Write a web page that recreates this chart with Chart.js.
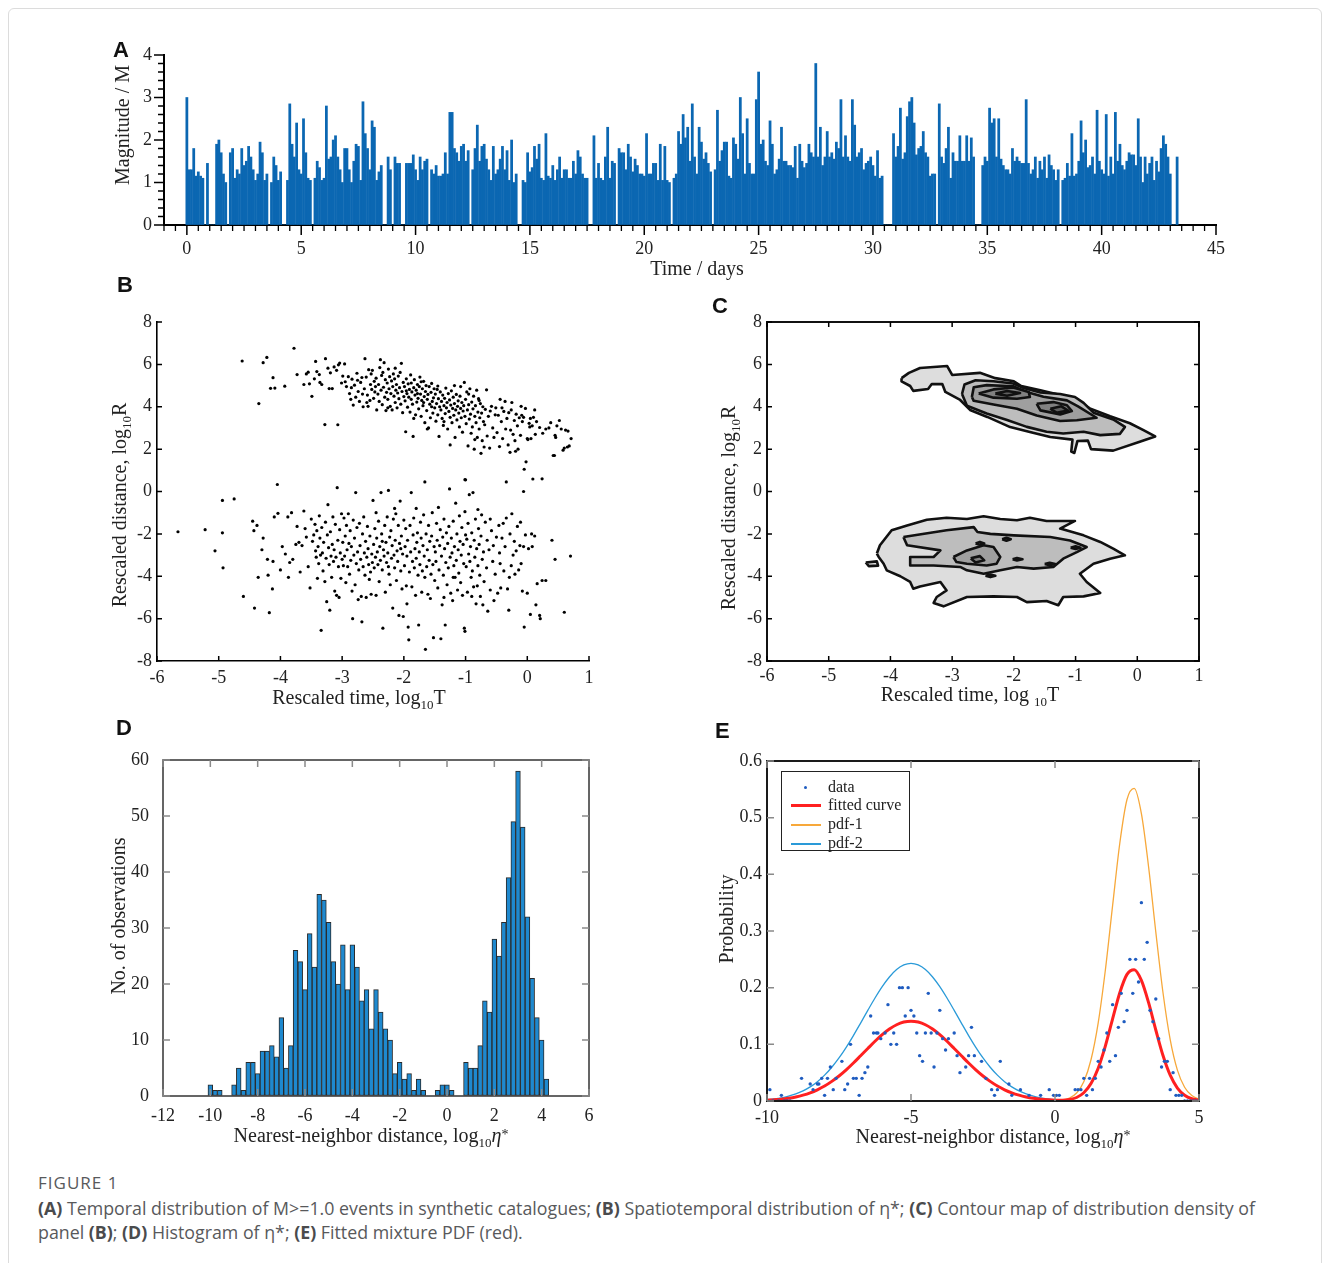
<!DOCTYPE html>
<html><head><meta charset="utf-8">
<script src="https://cdn.jsdelivr.net/npm/chart.js"></script>
<style>
html,body{margin:0;padding:0;background:#fff;}
body{width:1330px;height:1263px;position:relative;overflow:hidden;font-family:"Liberation Serif","Times New Roman",serif;}
#frame{position:absolute;left:8px;top:8px;width:1312px;height:1300px;border:1px solid #dcdcdc;border-radius:6px;}
#wrap canvas{position:absolute;}
.lbl{position:absolute;font:bold 22px "Liberation Sans",Arial,sans-serif;line-height:22px;color:#111;}
.ttl{position:absolute;font-size:20px;line-height:22px;color:#222;white-space:nowrap;transform:translate(-50%,-50%);}
.rot{transform:translate(-50%,-50%) rotate(-90deg);}
.ttl sub{font-size:13px;vertical-align:-5px;line-height:0;}
.st{font-size:14px;vertical-align:3px;line-height:0;}
#eleg{position:absolute;left:781px;top:771px;width:127px;height:78px;border:1.5px solid #222;background:#fff;font-size:16px;color:#222;}
#eleg .row{position:absolute;left:0;height:18px;line-height:18px;white-space:nowrap;}
#eleg .sw{position:absolute;left:9px;width:30px;}
#eleg .tx{position:absolute;left:46px;top:0;}
#cap{position:absolute;left:38px;top:1172px;font-family:"Open Sans",sans-serif;color:#58595b;}
#cap .fig{font-size:17px;letter-spacing:1px;line-height:22px;}
#cap .txt{font-size:17.8px;line-height:24px;margin-top:2px;white-space:nowrap;}
#cap b{font-weight:700;color:#4a4b4d;}
</style></head>
<body>
<div id="frame"></div>
<div id="wrap"></div>

<div class="lbl" style="left:113px;top:39px">A</div>
<div class="lbl" style="left:117px;top:274px">B</div>
<div class="lbl" style="left:712px;top:295px">C</div>
<div class="lbl" style="left:116px;top:717px">D</div>
<div class="lbl" style="left:715px;top:720px">E</div>

<div class="ttl rot" style="left:122px;top:125px">Magnitude / M</div>
<div class="ttl" style="left:697px;top:268px">Time / days</div>
<div class="ttl rot" style="left:119px;top:505px">Rescaled distance, log<sub>10</sub>R</div>
<div class="ttl" style="left:359px;top:697px">Rescaled time, log<sub>10</sub>T</div>
<div class="ttl rot" style="left:728px;top:508px">Rescaled distance, log<sub>10</sub>R</div>
<div class="ttl" style="left:970px;top:694px">Rescaled time, log <sub>10</sub>T</div>
<div class="ttl rot" style="left:118px;top:916px">No. of observations</div>
<div class="ttl" style="left:371px;top:1135px">Nearest-neighbor distance, log<sub>10</sub><i>η</i><span class="st">*</span></div>
<div class="ttl rot" style="left:726px;top:919px">Probability</div>
<div class="ttl" style="left:993px;top:1136px">Nearest-neighbor distance, log<sub>10</sub><i>η</i><span class="st">*</span></div>

<div id="eleg">
  <div class="row" style="top:6px"><div class="sw" style="top:8px;left:22px;width:3px;height:3px;border-radius:2px;background:#1f5cc0"></div><div class="tx">data</div></div>
  <div class="row" style="top:24px"><div class="sw" style="top:8px;height:3px;background:#ff2020"></div><div class="tx">fitted curve</div></div>
  <div class="row" style="top:43px"><div class="sw" style="top:9px;height:1.5px;background:#f7a83a"></div><div class="tx">pdf-1</div></div>
  <div class="row" style="top:62px"><div class="sw" style="top:9px;height:1.5px;background:#2a9ad8"></div><div class="tx">pdf-2</div></div>
</div>

<div id="cap">
  <div class="fig">FIGURE 1</div>
  <div class="txt"><b>(A)</b> Temporal distribution of M&gt;=1.0 events in synthetic catalogues; <b>(B)</b> Spatiotemporal distribution of η*; <b>(C)</b> Contour map of distribution density of<br>panel <b>(B)</b>; <b>(D)</b> Histogram of η*; <b>(E)</b> Fitted mixture PDF (red).</div>
</div>

<script>
// ---------------- DATA ----------------
// Panel A: magnitudes in 0.1-day bins starting at day 0 (0 = no event)
const aStart = 0, aStep = 0.1;
const aMag = [
3.0,1.3,1.3,1.8,1.15,1.25,1.15,1.1,0,1.45,
0,0,0,1.9,2.0,1.7,1.2,1.0,0,1.7,
1.8,1.1,1.3,1.2,1.8,1.4,1.5,1.85,1.6,1.3,
1.05,1.2,1.95,1.7,1.05,1.2,0,1.0,1.6,1.4,
1.05,1.25,0,0,1.05,2.85,1.9,1.6,2.4,1.3,
1.2,2.5,1.7,1.1,1.05,0,1.1,1.5,1.35,1.05,
1.1,2.8,1.55,1.6,2.0,2.1,1.6,1.3,1.0,1.8,
1.8,1.3,1.0,1.5,1.9,1.85,1.05,2.9,2.15,1.8,
1.3,2.45,2.3,1.05,1.25,1.4,0,0,1.6,1.3,
0,1.6,1.45,1.45,0,0,1.45,1.45,1.45,1.65,
1.3,1.05,1.6,1.3,1.5,1.55,0,1.3,1.2,1.4,
1.15,1.15,1.2,1.7,1.2,2.65,2.65,1.8,1.7,1.5,
1.85,1.9,1.5,1.75,0,1.3,1.8,2.35,1.5,1.85,
1.9,1.55,1.3,1.05,1.85,1.2,1.3,1.55,1.85,1.3,
1.75,1.05,2.0,1.0,1.2,0,0,1.05,1.0,1.7,
1.25,1.35,1.85,1.55,1.9,1.1,1.05,2.15,1.15,1.1,
1.4,1.05,1.3,1.6,1.1,1.3,1.3,1.1,1.1,1.5,
1.2,1.75,1.6,1.2,1.1,1.1,0,0,2.1,1.1,
1.45,1.1,1.05,1.6,2.3,1.1,1.5,1.45,0,1.8,
1.7,1.7,1.3,1.9,1.6,1.25,1.55,1.4,1.2,1.2,
1.15,2.15,1.2,1.2,1.45,1.45,1.05,1.9,1.05,1.85,
1.05,1.0,0,1.1,1.2,2.2,1.9,2.6,2.05,2.3,
1.5,2.85,1.6,1.2,2.3,1.95,1.55,1.7,1.45,1.25,
0,1.3,2.7,1.5,1.75,1.95,1.95,1.15,1.1,2.05,
1.9,1.55,3.0,2.15,1.2,2.5,1.45,1.2,1.2,2.95,
3.6,1.9,2.0,1.5,1.4,2.45,1.9,1.2,1.3,1.55,
2.3,1.5,1.5,1.4,1.4,1.35,1.85,1.1,1.9,1.5,
1.35,1.45,1.9,1.7,1.6,3.8,1.6,2.3,1.4,1.6,
2.2,1.6,1.7,1.55,1.95,1.8,2.95,1.6,2.1,1.6,
1.5,2.95,2.35,1.6,1.7,1.8,1.3,1.45,1.5,1.6,
1.4,1.15,1.75,1.1,1.15,0,0,0,0,2.15,
1.6,1.85,2.75,1.55,1.7,2.55,2.9,3.0,2.4,1.65,
1.8,1.85,2.2,1.7,1.6,1.15,1.2,1.2,0,2.85,
1.6,1.45,1.8,2.3,1.1,1.7,1.5,1.5,2.1,1.5,
1.5,2.1,1.5,2.05,1.6,0,0,0,1.4,1.6,
1.5,2.75,2.4,2.5,1.6,2.5,1.55,1.4,1.3,1.3,
1.2,1.8,1.5,1.6,1.5,1.45,1.45,2.95,1.45,1.2,
1.3,1.6,1.1,1.5,1.3,1.6,1.1,1.65,1.4,1.3,
1.05,1.3,0,1.05,1.1,1.45,1.15,2.15,1.15,1.2,
1.5,2.45,1.7,2.0,1.35,1.4,1.6,1.2,2.7,1.5,
1.3,1.2,2.6,1.15,1.6,1.2,2.65,1.5,1.9,1.4,
1.3,1.5,1.7,1.65,1.65,1.4,2.5,1.6,1.0,1.6,
1.2,1.45,1.6,1.05,1.5,1.25,1.8,2.1,1.9,1.6,
1.2,0,0,1.6
];
const aXTicks = [0,5,10,15,20,25,30,35,40,45];
const aYTicks = [0,1,2,3,4];

// Panel B: (log10 T, log10 R) pairs
const bUpper = [
-4.62,6.16,-4.28,6.08,-4.22,6.33,-4.12,5.37,-4.16,4.87,-4.09,4.88,-3.93,4.97,-4.35,4.15,-3.78,6.76,-3.73,5.52,
-3.55,5.63,-3.53,5.08,-3.49,4.49,-3.43,6.14,-3.41,5.66,-3.37,5.52,-3.33,5.05,-3.27,6.27,-3.23,5.82,-3.21,4.86,
-3.16,4.86,-3.13,5.88,-3.09,5.72,-3.06,5.98,-3.04,6.06,-2.99,5.45,-2.96,6.02,-3.28,3.16,-3.07,3.15,-3.36,5.15,
-3.19,5.6,-3.01,5.12,-3.45,5.32,-3.58,5.55,-3.62,5.05,
-2.93,4.95,-2.9,5.42,-2.88,4.62,-2.86,4.35,-2.84,5.3,-2.82,4.08,-2.8,5.02,-2.78,4.45,-2.76,5.58,-2.74,4.72,
-2.72,4.25,-2.7,5.15,-2.68,5.38,-2.66,4.0,-2.64,4.85,-2.63,6.27,-2.61,5.4,-2.59,4.55,-2.57,5.75,-2.55,4.3,
-2.54,5.05,-2.52,4.82,-2.51,5.72,-2.6,4.2,-2.95,5.18,-2.85,4.9,-2.75,5.25,-2.67,4.6,-2.58,4.02,-2.53,5.55,
-2.49,4.4,-2.48,5.2,-2.46,4.95,-2.45,5.35,-2.44,3.85,-2.42,4.6,-2.41,5.05,-2.4,4.25,-2.38,6.22,-2.37,4.78,
-2.36,5.48,-2.35,4.1,-2.34,5.62,-2.33,4.92,-2.32,6.08,-2.31,4.45,-2.3,5.28,-2.29,3.82,-2.28,4.68,-2.27,5.12,
-2.26,4.35,-2.25,5.78,-2.24,4.85,-2.23,5.42,-2.22,4.02,-2.21,4.62,-2.2,5.22,-2.19,3.85,-2.18,4.95,-2.17,5.55,
-2.16,4.5,-2.15,5.32,-2.14,4.2,-2.13,4.78,-2.12,5.05,-2.11,3.95,-2.1,4.65,-2.09,5.45,-2.08,4.38,-2.07,4.9,
-2.06,5.62,-2.05,4.12,-2.04,6.05,-2.03,4.72,-2.02,3.72,-2.01,5.15,-2.0,4.48,-2.47,4.7,-2.39,5.85,-2.26,3.95,-2.14,5.82,
-1.99,4.95,-1.98,4.28,-1.97,2.82,-1.96,5.32,-1.95,4.62,-1.94,3.98,-1.93,5.08,-1.92,4.45,-1.91,4.82,-1.9,3.75,
-1.89,5.5,-1.88,4.35,-1.87,4.7,-1.86,4.12,-1.85,2.6,-1.84,4.9,-1.83,5.28,-1.82,4.55,-1.81,3.62,-1.8,4.78,
-1.79,4.22,-1.78,5.05,-1.77,4.4,-1.76,3.9,-1.75,4.95,-1.74,5.4,-1.73,4.6,-1.72,3.55,-1.71,4.3,-1.7,4.85,
-1.69,4.05,-1.68,5.2,-1.67,4.48,-1.66,3.25,-1.65,4.72,-1.64,5.0,-1.63,3.82,-1.62,4.35,-1.61,4.58,-1.6,3.0,
-1.59,4.95,-1.58,4.12,-1.57,3.48,-1.56,4.68,-1.55,5.1,-1.54,4.25,-1.53,3.7,-1.52,4.42,-1.51,4.85,-1.5,3.95,
-1.96,4.75,-1.88,5.12,-1.84,3.45,-1.78,4.62,-1.72,5.18,-1.68,4.2,-1.62,2.95,-1.55,4.0,
-1.49,4.6,-1.48,3.32,-1.47,4.15,-1.46,4.82,-1.45,3.62,-1.44,4.38,-1.43,2.6,-1.42,4.0,-1.41,4.7,-1.4,3.85,
-1.39,4.25,-1.38,3.45,-1.37,4.55,-1.36,3.12,-1.35,4.05,-1.34,4.4,-1.33,3.68,-1.32,4.88,-1.31,3.95,-1.3,4.2,
-1.29,2.95,-1.28,4.62,-1.27,3.78,-1.26,4.32,-1.25,3.5,-1.24,4.08,-1.23,4.75,-1.22,3.25,-1.21,3.92,-1.2,4.45,
-1.19,3.6,-1.18,4.15,-1.17,2.55,-1.16,3.85,-1.15,4.58,-1.14,3.38,-1.13,4.02,-1.12,4.28,-1.11,3.7,-1.1,3.05,
-1.09,4.5,-1.08,3.92,-1.07,3.48,-1.06,4.2,-1.05,2.8,-1.04,3.8,-1.03,4.05,-1.02,5.15,-1.01,3.55,-1.0,4.35,
-1.45,4.98,-1.35,3.3,-1.25,2.2,-1.18,5.0,-1.08,4.95,
-0.99,3.2,-0.98,4.7,-0.97,3.85,-0.96,2.15,-0.95,4.1,-0.94,3.42,-0.93,4.85,-0.92,3.65,-0.91,2.75,-0.9,4.22,
-0.89,3.05,-0.88,3.9,-0.87,4.5,-0.86,2.0,-0.85,3.55,-0.84,4.05,-0.83,3.25,-0.82,4.78,-0.81,2.55,-0.8,3.75,
-0.79,4.38,-0.78,2.95,-0.77,3.48,-0.76,4.15,-0.75,1.8,-0.74,3.7,-0.73,2.4,-0.72,4.0,-0.71,3.3,-0.7,2.1,
-0.68,3.88,-0.66,4.8,-0.65,2.62,-0.63,3.55,-0.61,2.05,-0.6,3.8,-0.58,4.02,-0.56,3.0,-0.54,2.55,-0.52,3.62,
-0.51,3.95,-0.95,4.6,-0.85,2.45,-0.78,4.3,-0.69,3.15,
-0.49,2.78,-0.47,3.6,-0.45,2.12,-0.44,4.35,-0.42,3.3,-0.4,2.5,-0.38,3.78,-0.36,4.25,-0.35,2.95,-0.33,3.45,
-0.31,2.2,-0.3,3.72,-0.28,1.85,-0.26,3.85,-0.25,4.2,-0.23,2.7,-0.21,3.35,-0.2,2.4,-0.18,3.65,-0.16,3.1,
-0.15,2.0,-0.13,3.48,-0.11,2.65,-0.1,4.02,-0.08,3.3,-0.06,3.5,-0.05,1.05,-0.03,3.92,-0.02,1.4,0.0,2.5,
0.01,2.45,0.03,3.22,0.04,3.05,0.06,2.5,0.08,3.1,0.1,3.5,0.12,3.85,0.13,2.7,0.15,3.3,-0.41,3.95,
-0.27,2.9,-0.19,1.9,-0.09,3.6,0.05,3.45,
0.2,3.02,0.3,2.95,0.35,3.0,0.42,1.7,0.44,1.7,0.45,2.65,0.46,2.55,0.48,3.1,0.52,3.35,0.58,1.95,
0.6,2.05,0.62,2.9,0.65,2.1,0.68,2.15,0.71,2.5,0.25,2.75,0.38,3.25,0.55,2.95,0.66,2.85,
-0.06,0.0,0.09,0.59,-0.34,0.45,-1.01,0.56,0.24,0.6
];
const bLower = [
-5.66,-1.9,-5.22,-1.8,-5.06,-2.8,-4.94,-0.42,-4.94,-1.95,-4.93,-3.6,-4.75,-0.35,-4.6,-4.95,-4.45,-1.4,-4.43,-1.85,
-4.42,-5.5,-4.38,-1.6,-4.3,-2.75,-4.28,-2.2,-4.21,-3.2,-4.18,-5.72,-4.13,-4.6,-4.12,-3.3,-4.05,0.33,-4.04,-1.03,
-4.0,-3.7,-3.92,-2.95,-3.88,-1.2,-3.87,-4.05,-3.82,-1.0,-3.8,-3.2,-3.75,-2.5,-3.73,-1.65,-3.7,-2.4,-3.68,-3.8,
-3.65,-2.55,-3.62,-0.92,-3.6,-1.75,-3.58,-2.15,-3.55,-3.55,-3.52,-4.55,-3.5,-1.3,-3.48,-2.35,-3.46,-2.05,-4.36,-4.05,
-4.2,-3.95,-3.97,-2.6,-3.85,-3.35,-4.1,-1.2,
-3.44,-1.55,-3.43,-2.8,-3.42,-3.1,-3.41,-1.85,-3.4,-4.1,-3.39,-2.6,-3.38,-3.4,-3.37,-1.15,-3.36,-2.2,-3.35,-3.0,
-3.34,-6.55,-3.33,-1.7,-3.32,-2.9,-3.31,-3.75,-3.3,-2.4,-3.28,-4.25,-3.27,-1.45,-3.26,-3.15,-3.25,-5.2,-3.24,-2.05,
-3.23,-0.62,-3.22,-2.65,-3.21,-3.45,-3.2,-5.6,-3.19,-1.9,-3.18,-3.05,-3.17,-4.05,-3.16,-2.5,-3.15,-1.2,-3.14,-3.3,
-3.13,-2.75,-3.12,-4.7,-3.11,-1.55,-3.1,-3.1,-3.09,-4.9,-3.08,0.18,-3.07,-2.3,-3.06,-3.55,-3.05,-5.0,-3.04,-1.8,
-3.03,-2.9,-3.02,-4.1,-3.01,-1.05,-3.0,-3.2,
-2.99,-2.4,-2.98,-3.5,-2.97,-1.25,-2.96,-3.05,-2.95,-2.1,-2.94,-4.3,-2.93,-1.6,-2.92,-2.75,-2.91,-3.55,-2.9,-1.05,
-2.89,-2.45,-2.88,-3.9,-2.87,-1.85,-2.86,-3.25,-2.85,-2.6,-2.84,-4.7,-2.83,-6.0,-2.82,-1.35,-2.81,-3.0,-2.8,-2.2,
-2.79,-4.4,-2.78,-0.05,-2.77,-3.4,-2.76,-1.7,-2.75,-2.85,-2.74,-5.1,-2.73,-3.7,-2.72,-1.5,-2.71,-2.55,-2.7,-3.2,
-2.69,-4.95,-2.68,-6.15,-2.67,-2.0,-2.66,-3.55,-2.65,-1.2,-2.64,-2.9,-2.63,-3.95,-2.62,-2.35,-2.61,-5.0,-2.6,-3.1,
-2.59,-1.65,-2.58,-2.7,-2.57,-3.45,-2.56,-4.15,-2.55,-2.1,-2.54,-3.8,-2.53,-4.85,-2.52,-2.95,-2.51,-3.35,-2.5,-0.42,
-2.49,-2.5,-2.48,-3.6,-2.47,-1.75,-2.46,-3.1,-2.45,-4.9,-2.44,-2.2,-2.43,-2.85,-2.42,-3.45,-2.41,-1.4,-2.4,-4.25,
-2.39,-2.6,-2.38,-3.25,-2.37,-0.05,-2.36,-2.0,-2.35,-3.7,-2.34,-6.45,-2.33,-2.75,-2.32,-3.05,-2.31,-1.6,-2.3,-4.75,
-2.29,-2.4,-2.28,-3.35,-2.27,-1.2,-2.26,-2.9,-2.25,0.05,-2.24,-3.9,-2.23,-2.15,-2.22,-4.4,-2.21,-1.85,-2.2,-3.15,
-2.19,-2.55,-2.18,-5.5,-2.17,-1.3,-2.16,-3.0,-2.15,-3.6,-2.14,-2.3,-2.13,-1.05,-2.12,-4.2,-2.11,-2.8,-2.1,-3.3,
-2.09,-1.6,-2.08,-5.85,-2.07,-2.45,-2.06,-0.45,-2.05,-3.75,-2.04,-2.1,-2.03,-4.6,-2.02,-2.95,-2.01,-5.9,-2.0,-1.35,
-2.45,-1.0,-2.35,-2.35,-2.25,-3.55,-2.15,-0.8,-2.05,-2.7,
-1.99,-3.5,-1.98,-2.6,-1.97,-1.75,-1.96,-4.45,-1.95,-3.05,-1.94,-2.3,-1.93,-6.4,-1.92,-7.0,-1.91,-3.8,-1.9,-1.6,
-1.89,-2.85,-1.88,-0.05,-1.87,-4.5,-1.86,-3.3,-1.85,-2.05,-1.84,-1.25,-1.83,-3.6,-1.82,-2.7,-1.81,-4.9,-1.8,-3.15,
-1.79,-2.4,-1.78,-1.95,-1.77,-3.95,-1.76,-6.3,-1.75,-2.85,-1.74,-3.45,-1.73,-1.45,-1.72,-2.2,-1.71,-4.75,-1.7,-3.75,
-1.69,-2.55,-1.68,-1.1,-1.67,-3.05,-1.66,-4.05,-1.65,-7.45,-1.64,-2.0,-1.63,-3.55,-1.62,-2.75,-1.61,-4.85,-1.6,-1.6,
-1.59,-3.25,-1.58,-2.35,-1.57,-5.05,-1.56,-3.9,-1.55,-2.1,-1.54,-1.0,-1.53,-3.45,-1.52,-6.9,-1.51,-2.6,-1.5,-4.2,
-1.66,0.45,-1.8,-0.8,-1.95,-5.3,
-1.49,-2.85,-1.48,-3.3,-1.47,-1.5,-1.46,-2.3,-1.45,-4.55,-1.44,-0.75,-1.43,-3.7,-1.42,-2.55,-1.41,-1.8,-1.4,-6.95,
-1.39,-3.05,-1.38,-5.35,-1.37,-2.15,-1.36,-3.95,-1.35,-1.3,-1.34,-2.7,-1.33,-6.3,-1.32,-3.35,-1.31,-1.95,-1.3,-4.4,
-1.29,-2.45,-1.28,-3.6,-1.27,-1.65,-1.26,0.12,-1.25,-3.1,-1.24,-4.8,-1.23,-2.2,-1.22,-2.9,-1.21,-5.15,-1.2,-1.4,
-1.19,-3.5,-1.18,-2.6,-1.17,-4.05,-1.16,-0.55,-1.15,-3.25,-1.14,-2.0,-1.13,-4.65,-1.12,-2.75,-1.11,-3.85,-1.1,-1.15,
-1.09,-2.35,-1.08,-4.3,-1.07,-3.0,-1.06,-1.7,-1.05,-4.9,-1.04,-2.5,-1.03,-3.4,-1.02,-6.45,-1.01,-0.95,-1.0,-2.05,
-1.0,0.55,-1.01,-6.6,-1.2,-4.05,-1.35,-5.0,
-0.99,-3.55,-0.98,-2.25,-0.97,-4.75,-0.96,-1.5,-0.95,-2.95,-0.94,-0.15,-0.93,-3.3,-0.92,-2.6,-0.91,-4.05,-0.9,-1.95,
-0.89,-3.75,-0.88,-0.05,-0.87,-4.5,-0.86,-2.3,-0.85,-3.1,-0.84,-1.3,-0.83,-5.3,-0.82,-2.7,-0.81,-4.45,-0.8,-3.5,
-0.79,-1.75,-0.78,-2.5,-0.77,-3.95,-0.76,-4.95,-0.75,-2.1,-0.74,-1.1,-0.73,-3.2,-0.72,-5.35,-0.71,-2.85,-0.7,-4.25,
-0.68,-1.45,-0.66,-3.6,-0.65,-2.3,-0.64,-5.65,-0.62,-2.75,-0.6,-4.65,-0.58,-1.85,-0.56,-3.3,-0.55,-2.55,-0.54,-5.15,
-0.52,-3.9,-0.5,-2.15,-0.9,-4.95,-0.8,-0.85,-0.6,-1.3,
-0.48,-4.8,-0.46,-1.6,-0.45,-2.9,-0.43,-4.55,-0.41,-2.2,-0.39,-1.5,-0.38,-3.75,-0.36,-2.6,-0.34,-1.25,-0.32,-4.6,
-0.3,-5.6,-0.28,-2.0,-0.26,-3.5,-0.25,-1.05,-0.23,-3.0,-0.21,-2.35,-0.2,-3.9,-0.18,-2.8,-0.16,-1.65,-0.14,-3.7,
-0.12,-2.55,-0.1,-3.4,-0.08,-4.7,-0.06,-2.6,-0.05,-6.4,-0.03,-2.05,0.0,-4.8,0.02,-2.7,0.05,-5.8,0.07,-2.0,
0.08,-2.6,0.12,-2.1,0.14,-5.35,0.16,-4.35,0.2,-5.85,0.21,-6.0,0.24,-4.2,0.3,-4.2,0.4,-2.3,0.45,-3.2,
0.6,-5.7,0.7,-3.05,-0.44,-3.4,-0.29,-4.05,-0.11,-1.45
];
const bXTicks = [-6,-5,-4,-3,-2,-1,0,1];
const bYTicks = [-8,-6,-4,-2,0,2,4,6,8];

// Panel C: contour polygons (log10 T, log10 R), levels 1 (outer) .. 5 (inner)
const cUp1 = [-3.82,5.35,-3.70,5.60,-3.52,5.83,-3.08,5.92,-3.00,5.50,-2.55,5.60,-2.30,5.35,-2.00,5.20,-1.88,4.98,-1.57,4.78,
 -1.25,4.55,-0.98,4.30,-0.77,3.92,-0.44,3.55,-0.12,3.22,0.10,2.90,0.29,2.60,0.04,2.35,-0.39,1.93,-0.75,2.00,
 -0.80,2.40,-0.97,2.38,-1.02,1.82,-1.07,1.88,-1.05,2.45,-1.41,2.57,-1.74,2.81,-2.06,3.04,-2.43,3.52,-2.71,3.85,
 -2.87,4.32,-3.11,4.70,-3.16,5.07,-3.33,5.07,-3.39,4.84,-3.63,4.75,-3.68,4.98,-3.82,5.20];
const cUp2 = [-2.84,4.60,-2.80,5.05,-2.62,5.25,-2.33,5.20,-2.01,5.10,-1.84,4.88,-1.57,4.67,-1.25,4.60,-1.01,4.46,-0.87,4.18,
 -0.71,3.72,-0.39,3.40,-0.20,3.05,-0.28,2.72,-0.60,2.66,-0.87,2.82,-1.20,2.74,-1.47,2.82,-1.79,3.05,-2.11,3.37,
 -2.44,3.68,-2.76,4.05];
const cUp2b = [-0.84,2.98,-0.72,3.06,-0.60,3.00,-0.72,2.92];
const cUp3 = [-2.68,4.46,-2.65,4.92,-2.44,5.02,-2.01,4.97,-1.82,4.72,-1.52,4.47,-1.14,4.30,-0.96,4.02,-0.66,3.48,-0.98,3.36,
 -1.25,3.33,-1.63,3.59,-1.95,3.91,-2.33,4.11,-2.65,4.28];
const cUp4a = [-2.57,4.62,-2.33,4.82,-2.01,4.91,-1.76,4.70,-1.74,4.46,-1.95,4.38,-2.33,4.43];
const cUp4b = [-1.63,4.14,-1.36,4.22,-1.14,4.07,-1.06,3.80,-1.25,3.64,-1.57,3.83];
const cUp5a = [-2.30,4.62,-2.11,4.74,-1.90,4.65,-2.11,4.52];
const cUp5b = [-1.41,3.91,-1.23,4.02,-1.12,3.82,-1.31,3.72];
const cLo1 = [-4.22,-2.93,-4.17,-2.54,-3.98,-1.83,-3.73,-1.60,-3.41,-1.33,-3.09,-1.24,-2.76,-1.30,-2.49,-1.17,-2.22,-1.30,-1.95,-1.36,
 -1.74,-1.24,-1.47,-1.39,-1.01,-1.39,-1.25,-1.75,-0.87,-2.07,-0.60,-2.38,-0.39,-2.70,-0.20,-3.01,-0.44,-3.17,-0.71,-3.41,
 -0.93,-3.88,-0.82,-4.27,-0.60,-4.79,-0.87,-4.95,-1.20,-4.98,-1.28,-5.37,-1.47,-5.17,-1.79,-5.22,-1.95,-4.98,-2.33,-4.95,
 -2.76,-4.98,-3.14,-5.42,-3.30,-5.26,-3.25,-4.98,-3.09,-4.67,-3.19,-4.27,-3.52,-4.48,-3.63,-4.59,-3.68,-4.27,-3.84,-4.00,
 -4.06,-3.72,-4.11,-3.41,-4.19,-3.09];
const cLoIsl = [-4.40,-3.35,-4.22,-3.30,-4.20,-3.50,-4.35,-3.52];
const cLo2 = [-3.79,-2.15,-3.09,-1.83,-2.65,-1.68,-2.59,-1.91,-2.38,-2.00,-2.00,-2.07,-1.41,-2.15,-1.09,-2.31,-0.82,-2.62,-0.98,-2.86,
 -1.20,-3.17,-1.36,-3.56,-1.68,-3.64,-1.95,-3.56,-2.22,-3.72,-2.49,-3.88,-2.76,-3.72,-2.87,-3.56,-3.30,-3.49,-3.68,-3.49,
 -3.68,-3.09,-3.30,-3.09,-3.19,-2.78,-3.73,-2.54];
const cLo3 = [-2.98,-3.09,-2.76,-2.78,-2.49,-2.54,-2.33,-2.62,-2.22,-3.09,-2.28,-3.41,-2.44,-3.49,-2.76,-3.41,-2.93,-3.33];
const cLo3d = [
 [-2.62,-2.45,-2.55,-2.38,-2.48,-2.45,-2.55,-2.52],
 [-2.19,-2.25,-2.12,-2.18,-2.05,-2.25,-2.12,-2.32],
 [-2.02,-3.20,-1.95,-3.14,-1.86,-3.20,-1.95,-3.26],
 [-1.50,-3.42,-1.42,-3.36,-1.33,-3.42,-1.42,-3.48],
 [-1.08,-2.65,-1.00,-2.59,-0.92,-2.65,-1.00,-2.71],
 [-2.46,-3.98,-2.38,-3.92,-2.30,-3.98,-2.38,-4.04]
];
const cLo4 = [-2.70,-3.15,-2.55,-3.05,-2.48,-3.25,-2.62,-3.35];
const cLevelColors = ['#dddddd','#bdbdbd','#9f9f9f','#818181','#5f5f5f'];

// Panel D: histogram of log10 eta* (bin width 0.2)
const dCenters = [-10,-9.8,-9.6,-9.4,-9.2,-9,-8.8,-8.6,-8.4,-8.2,-8,-7.8,-7.6,-7.4,-7.2,-7,-6.8,-6.6,-6.4,-6.2,
 -6,-5.8,-5.6,-5.4,-5.2,-5,-4.8,-4.6,-4.4,-4.2,-4,-3.8,-3.6,-3.4,-3.2,-3,-2.8,-2.6,-2.4,-2.2,
 -2,-1.8,-1.6,-1.4,-1.2,-1,-0.8,-0.6,-0.4,-0.2,0,0.2,0.4,0.6,0.8,1,1.2,1.4,1.6,1.8,
 2,2.2,2.4,2.6,2.8,3,3.2,3.4,3.6,3.8,4,4.2];
const dCounts = [2,1,1,0,0,2,5,1,6,6,4,8,8,9,7,14,5,9,26,24,
 19,29,23,36,35,31,24,20,27,19,27,23,17,19,12,19,15,12,10,4,
 6,3,4,1,3,1,0,0,1,2,2,1,0,0,6,5,5,9,17,15,
 28,25,31,39,49,58,48,32,21,14,10,3];
const dXTicks = [-12,-10,-8,-6,-4,-2,0,2,4,6];
const dYTicks = [0,10,20,30,40,50,60];

// Panel E: fitted mixture
const eX = [-10,-9.75,-9.5,-9.25,-9,-8.75,-8.5,-8.25,-8,-7.75,-7.5,-7.25,-7,-6.75,-6.5,-6.25,-6,-5.75,-5.5,-5.25,
 -5,-4.75,-4.5,-4.25,-4,-3.75,-3.5,-3.25,-3,-2.75,-2.5,-2.25,-2,-1.75,-1.5,-1.25,-1,-0.75,-0.5,-0.25,
 0,0.25,0.5,0.75,1,1.25,1.5,1.75,2,2.25,2.5,2.75,3,3.25,3.5,3.75,4,4.25,4.5,4.75,5];
const ePdf2 = [0.0023,0.0037,0.0056,0.0085,0.0124,0.0178,0.0249,0.0341,0.0456,0.0596,0.0760,0.0948,0.1155,0.1375,0.1599,0.1817,0.2018,0.2189,0.2320,0.2402,
 0.2430,0.2402,0.2320,0.2189,0.2018,0.1817,0.1599,0.1375,0.1155,0.0948,0.0760,0.0596,0.0456,0.0341,0.0249,0.0178,0.0124,0.0085,0.0056,0.0037,
 0.0023,0.0014,0.0009,0.0005,0.0003,0.0002,0.0001,0,0,0,0,0,0,0,0,0,0,0,0,0,0];
const ePdf1 = [0,0,0,0,0,0,0,0,0,0,0,0,0,0,0,0,0,0,0,0,
 0,0,0,0,0,0,0,0,0,0,0,0,0,0,0,0,0,0,0,0,
 0.0005,0.0017,0.0052,0.0141,0.0341,0.0728,0.1379,0.2316,0.3447,0.4549,0.5320,0.5517,0.5070,0.4130,0.2983,0.1910,0.1083,0.0545,0.0243,0.0096,0.0034];
const eFit = [0.0013,0.0021,0.0032,0.0049,0.0072,0.0103,0.0144,0.0198,0.0264,0.0346,0.0441,0.0550,0.0670,0.0798,0.0927,0.1054,0.1170,0.1270,0.1346,0.1393,
 0.1409,0.1393,0.1346,0.1270,0.1170,0.1054,0.0927,0.0798,0.0670,0.0550,0.0441,0.0346,0.0264,0.0198,0.0144,0.0103,0.0072,0.0049,0.0032,0.0021,
 0.0015,0.0015,0.0027,0.0062,0.0145,0.0307,0.0579,0.0973,0.1448,0.1911,0.2234,0.2317,0.2129,0.1735,0.1253,0.0802,0.0455,0.0229,0.0102,0.0040,0.0014];
const eData = [
 [-9.9,0.02],[-9.5,0.01],[-8.8,0.04],[-8.5,0.03],[-8.4,0.02],[-8.25,0.03],[-8.2,0.03],[-8.1,0.04],[-8.0,0.01],[-7.9,0.04],
 [-7.8,0.06],[-7.7,0.02],[-7.6,0.04],[-7.4,0.07],[-7.3,0.02],[-7.2,0.03],[-7.1,0.10],[-7.0,0.04],[-6.9,0.04],[-6.8,0.01],
 [-6.7,0.04],[-6.6,0.05],[-6.5,0.06],[-6.4,0.15],[-6.3,0.12],[-6.2,0.12],[-6.15,0.12],[-6.05,0.11],[-5.9,0.12],[-5.8,0.17],
 [-5.7,0.10],[-5.6,0.12],[-5.5,0.10],[-5.4,0.20],[-5.3,0.20],[-5.2,0.15],[-5.1,0.20],[-5.0,0.16],[-4.9,0.15],[-4.8,0.12],
 [-4.7,0.08],[-4.6,0.07],[-4.5,0.12],[-4.4,0.19],[-4.3,0.12],[-4.2,0.06],[-4.1,0.12],[-4.0,0.16],[-3.9,0.11],[-3.8,0.09],
 [-3.7,0.11],[-3.5,0.12],[-3.4,0.08],[-3.3,0.05],[-3.1,0.06],[-3.0,0.08],[-2.9,0.13],[-2.8,0.08],[-2.55,0.07],[-2.4,0.04],
 [-2.2,0.02],[-2.1,0.01],[-2.0,0.02],[-1.9,0.07],[-1.6,0.03],[-1.5,0.01],[-1.2,0.02],[-0.9,0.01],[-0.5,0.01],[-0.2,0.02],
 [-0.05,0.01],[0.05,0.01],[0.15,0.01],[0.7,0.02],[0.8,0.02],[0.9,0.02],[1.0,0.04],[1.1,0.01],[1.2,0.04],[1.3,0.02],
 [1.4,0.04],[1.5,0.07],[1.6,0.06],[1.7,0.09],[1.8,0.12],[1.9,0.07],[2.0,0.17],[2.1,0.08],[2.2,0.13],[2.3,0.19],
 [2.4,0.14],[2.5,0.16],[2.6,0.25],[2.7,0.19],[2.8,0.25],[2.9,0.21],[3.0,0.35],[3.1,0.25],[3.2,0.28],[3.3,0.16],
 [3.4,0.14],[3.5,0.18],[3.6,0.11],[3.7,0.06],[3.8,0.07],[3.9,0.07],[4.0,0.02],[4.1,0.05],[4.2,0.01],[4.3,0.01],
 [4.4,0.01],[4.5,0],[4.6,0],[4.7,0],[4.8,0],[4.9,0],[-9.8,0],[-9.6,0],[-9.4,0],[-9.3,0],[-9.2,0]
];
const eXTicks = [-10,-5,0,5];
const eYTicks = [0,0.1,0.2,0.3,0.4,0.5,0.6];

// ---------------- RENDER ----------------
Chart.defaults.font.family = '"Liberation Serif","Times New Roman",serif';
Chart.defaults.color = '#222';
Chart.defaults.animation = false;

function toXY(flat){ const r=[]; for(let i=0;i<flat.length;i+=2) r.push({x:flat[i],y:flat[i+1]}); return r; }
function closed(flat){ const p=toXY(flat); p.push({x:p[0].x,y:p[0].y}); return p; }

function makeCanvas(L,T,R,B){
  const c=document.createElement('canvas');
  const w=R-L+120, h=B-T+70;
  c.width=w; c.height=h;
  c.style.left=(L-80)+'px'; c.style.top=(T-20)+'px'; c.style.width=w+'px'; c.style.height=h+'px';
  document.getElementById('wrap').appendChild(c);
  return c;
}
const noPad = s => { s.paddingLeft=0; s.paddingRight=0; s.paddingTop=0; s.paddingBottom=0; };
function axis(dir,min,max,ticks,pad,size,fmt,border){
  return {type:'linear',min,max,offset:false,position: dir==='x'?'bottom':'left',
    afterBuildTicks:s=>{ s.ticks = ticks.map(v=>({value:v})); },
    afterFit:s=>{ if(dir==='x') s.height=45; else s.width=70; noPad(s); },
    grid:{drawOnChartArea:false,drawTicks:false},
    border:{display:!!border,color:'#000',width:border||1},
    ticks:{padding:pad,autoSkip:false,maxRotation:0,minRotation:0,color:'#222',font:{size},callback:fmt||(v=>String(v))}};
}
function opts(x,y){
  return {responsive:false,animation:false,devicePixelRatio:1,
    layout:{padding:{left:10,top:20,right:40,bottom:5},autoPadding:false},
    scales:{x,y},
    plugins:{legend:{display:false},tooltip:{enabled:false}}};
}
function framePlugin(color,width){ return {id:'frame'+Math.random().toString(36).slice(2), afterDatasetsDraw(chart){
  const a=chart.chartArea, ctx=chart.ctx;
  ctx.save(); ctx.strokeStyle=color; ctx.lineWidth=width;
  ctx.strokeRect(a.left,a.top,a.right-a.left,a.bottom-a.top); ctx.restore(); }}; }
function tickPlugin(sets){ return {id:'ticks'+Math.random().toString(36).slice(2), afterDatasetsDraw(chart){
  const a=chart.chartArea, ctx=chart.ctx;
  ctx.save();
  sets.forEach(set=>{
    const sc=chart.scales[set.axis];
    const vals=set.values?set.values:sc.ticks.map(t=>t.value);
    ctx.strokeStyle=set.color||'#000'; ctx.lineWidth=set.width||1;
    ctx.beginPath();
    vals.forEach(v=>{
      const p=sc.getPixelForValue(v);
      set.sides.forEach(side=>{
        if(side==='bottom'){ctx.moveTo(p,a.bottom);ctx.lineTo(p,a.bottom+set.len);}
        if(side==='top'){ctx.moveTo(p,a.top);ctx.lineTo(p,a.top-set.len);}
        if(side==='left'){ctx.moveTo(a.left,p);ctx.lineTo(a.left-set.len,p);}
        if(side==='right'){ctx.moveTo(a.right,p);ctx.lineTo(a.right+set.len,p);}
      });
    });
    ctx.stroke();
  });
  ctx.restore(); }}; }

// minor tick positions for panel A (unlabelled)
const aMinorX=[]; for(let i=-2;i<=90;i++){ if(i%10!==0) aMinorX.push(i/2); }
const aMinorY=[]; for(let i=0;i<=20;i++){ if(i%5!==0) aMinorY.push(i/5); }

// Panel A
new Chart(makeCanvas(164,55,1216,225),{type:'bar',
  data:{datasets:[{data:aMag.map((m,i)=>({x:aStart+i*aStep,y:m})),backgroundColor:'#0b67b2',barThickness:2.1,borderWidth:0}]},
  options:opts(axis('x',-1,45,aXTicks,13,18,null,2),axis('y',0,4,aYTicks,12,18,null,2)),
  plugins:[tickPlugin([
      {axis:'x',len:10,sides:['bottom'],width:1.5},
      {axis:'x',values:aMinorX,len:6,sides:['bottom'],width:1.3},
      {axis:'y',len:10,sides:['left'],width:1.5},
      {axis:'y',values:aMinorY,len:6,sides:['left'],width:1.3}])]});

// Panel B
new Chart(makeCanvas(157,322,589,661),{type:'scatter',
  data:{datasets:[
    {data:toXY(bUpper),pointRadius:1.6,pointBackgroundColor:'#000',pointBorderWidth:0},
    {data:toXY(bLower),pointRadius:1.6,pointBackgroundColor:'#000',pointBorderWidth:0}]},
  options:opts(axis('x',-6,1,bXTicks,6,18,null,1.6),axis('y',-8,8,bYTicks,5,18,null,1.6)),
  plugins:[tickPlugin([{axis:'x',len:-5,sides:['bottom'],width:1.5},{axis:'y',len:-5,sides:['left'],width:1.5}])]});

// Panel C
function poly(flat,level){
  return {data:closed(flat),fill:'shape',backgroundColor:cLevelColors[level-1],borderColor:'#111',borderWidth:2.6,
    borderJoinStyle:'round',pointRadius:0,tension:0,order:10-level};
}
const cSets=[poly(cUp1,1),poly(cLo1,1),poly(cLoIsl,1),poly(cUp2,2),poly(cUp2b,2),poly(cLo2,2),
  poly(cUp3,3),poly(cLo3,3),poly(cUp4a,4),poly(cUp4b,4),poly(cLo4,4),poly(cUp5a,5),poly(cUp5b,5)];
cLo3d.forEach(d=>cSets.push(poly(d,3)));
new Chart(makeCanvas(767,322,1199,661),{type:'line',
  data:{datasets:cSets},
  options:opts(axis('x',-6,1,bXTicks,4,18),axis('y',-8,8,bYTicks,5,18)),
  plugins:[framePlugin('#111',2),tickPlugin([{axis:'x',len:-5,sides:['bottom','top'],width:1.5},{axis:'y',len:-5,sides:['left','right'],width:1.5}])]});

// Panel D
new Chart(makeCanvas(163,760,589,1096),{type:'bar',
  data:{datasets:[{data:dCenters.map((c,i)=>({x:c,y:dCounts[i]||null})),backgroundColor:'#1e89cf',borderColor:'#2a2a2a',
    borderWidth:1,barPercentage:1,categoryPercentage:1,borderSkipped:false}]},
  options:opts(axis('x',-12,6,dXTicks,9,18),axis('y',0,60,dYTicks,14,18)),
  plugins:[framePlugin('#333',1.5),tickPlugin([{axis:'x',len:-7,sides:['bottom','top'],color:'#8a8a8a',width:1.5},{axis:'y',len:-7,sides:['left','right'],color:'#8a8a8a',width:1.5}])]});

// Panel E
const line = (ys,color,w,ord)=>({data:eX.map((x,i)=>({x,y:ys[i]})),borderColor:color,borderWidth:w,pointRadius:0,
  fill:false,cubicInterpolationMode:'monotone',order:ord});
new Chart(makeCanvas(767,761,1199,1101),{type:'line',
  data:{datasets:[
    {type:'scatter',data:eData.map(p=>({x:p[0],y:p[1]})),pointRadius:1.7,pointBackgroundColor:'#1f5cc0',pointBorderWidth:0,order:0},
    line(eFit,'#ff2020',3,1),
    line(ePdf1,'#f7a83a',1.3,2),
    line(ePdf2,'#2a9ad8',1.3,3)]},
  options:opts(axis('x',-10,5,eXTicks,6,18),axis('y',0,0.6,eYTicks,5,18,v=>v===0?'0':v.toFixed(1))),
  plugins:[framePlugin('#1a1a1a',2),tickPlugin([{axis:'x',len:-7,sides:['bottom','top'],color:'#8a8a8a',width:1.5},{axis:'y',len:-7,sides:['left','right'],color:'#8a8a8a',width:1.5}])]});
</script>
</body></html>
